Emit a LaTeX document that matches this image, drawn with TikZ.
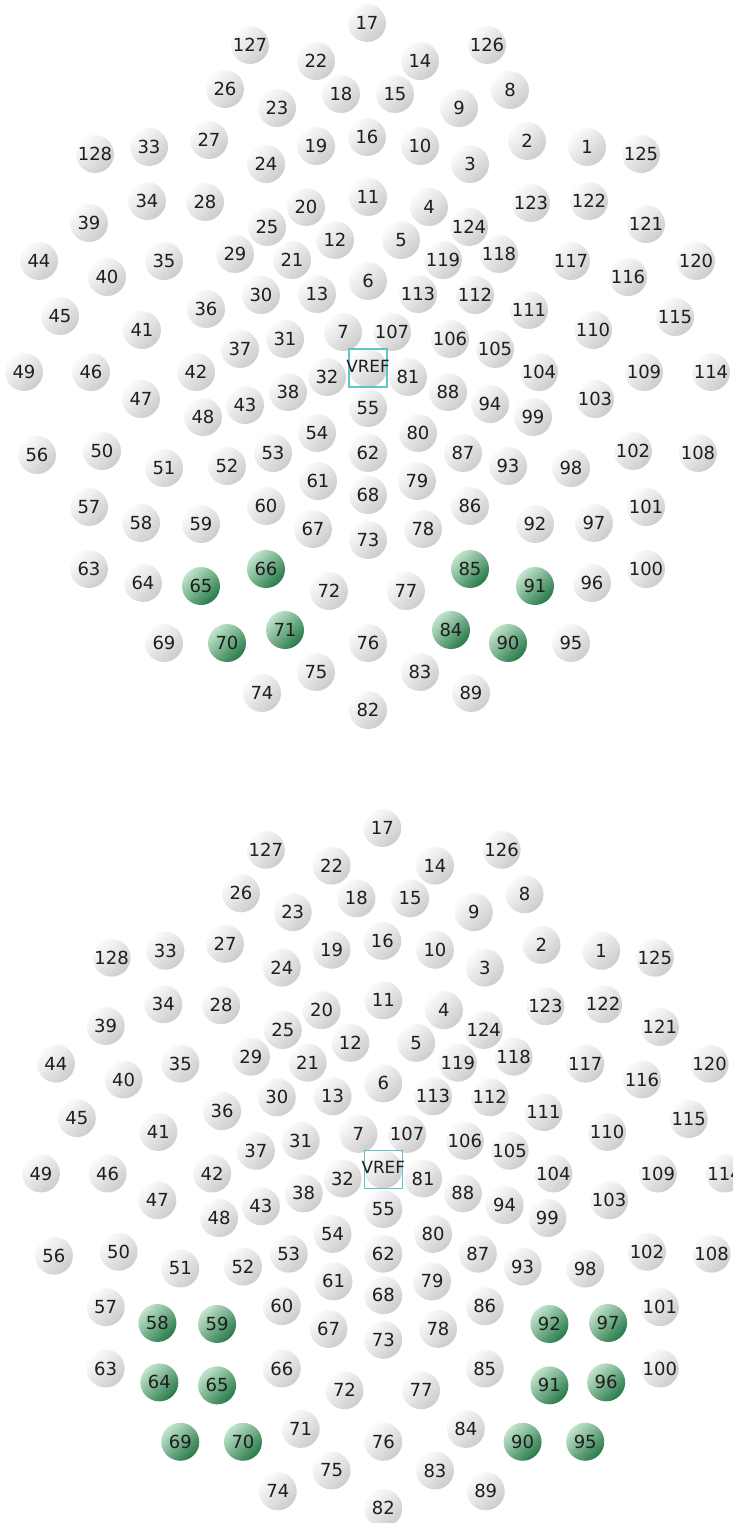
\documentclass[tikz,border=0pt]{standalone}
\usepackage{fontspec}
\setmainfont{DejaVu Sans}
\usepackage{xcolor}
\usetikzlibrary{shadings}
\definecolor{elhi}{RGB}{252,252,252}
\definecolor{ello}{RGB}{204,204,204}
\definecolor{selhi}{RGB}{195,228,205}
\definecolor{sello}{RGB}{38,122,72}
\definecolor{eltext}{RGB}{30,30,30}
\definecolor{refline}{RGB}{95,195,200}

% electrode positions (pixel grid of the upper net)
\newcommand{\netlayout}{%
  1/587/147, 2/527/141, 3/470/164, 4/429/207, 5/401/240, 6/368/281,
  7/343/332, 8/510/90, 9/459/108, 10/420/146, 11/368/197, 12/335/240,
  13/317/294, 14/420/61, 15/395/94, 16/367/137, 17/367/23, 18/341/94,
  19/316/146, 20/306/207, 21/292/260, 22/316/61, 23/277/108, 24/266/164,
  25/267/227, 26/225/89, 27/209/140, 28/205/202, 29/235/254, 30/261/295,
  31/285/339, 32/327/377, 33/149/147, 34/147/201, 35/164/261, 36/206/309,
  37/240/349, 38/288/392, 39/89/223, 40/107/277, 41/142/330, 42/196/372,
  43/245/405, 44/39/261, 45/60/316, 46/91/372, 47/141/399, 48/203/417,
  49/24/372, 50/102/451, 51/164/468, 52/227/466, 53/273/453, 54/317/433,
  55/368/408, 56/37/455, 57/89/507, 58/141/523, 59/201/524, 60/266/506,
  61/318/481, 62/368/453, 63/89/569, 64/143/583, 65/201/586, 66/266/569,
  67/313/529, 68/368/495, 69/164/643, 70/227/643, 71/285/630, 72/329/591,
  73/368/540, 74/262/693, 75/316/672, 76/368/643, 77/406/591, 78/423/529,
  79/417/481, 80/418/433, 81/408/377, 82/368/710, 83/420/672, 84/451/630,
  85/470/569, 86/470/506, 87/463/453, 88/448/392, 89/471/693, 90/508/643,
  91/535/586, 92/535/524, 93/508/466, 94/490/404, 95/571/643, 96/592/583,
  97/594/523, 98/571/468, 99/533/417, 100/646/569, 101/646/507,
  102/633/451, 103/595/399, 104/539/372, 105/495/349, 106/450/339,
  107/392/332, 108/698/453, 109/644/372, 110/593/330, 111/529/310,
  112/475/295, 113/418/294, 114/711/372, 115/675/317, 116/628/277,
  117/571/261, 118/499/254, 119/443/260, 120/696/261, 121/646/224,
  122/589/201, 123/531/203, 124/469/227, 125/641/154, 126/487/45,
  127/250/45, 128/95/154}

\begin{document}
\begin{tikzpicture}[
  x=0.5pt, y=-0.5pt,
  every node/.style={font=\fontsize{9}{10}\selectfont, text=eltext},
  elec/.style={circle, minimum size=19pt, inner sep=0pt,
               top color=elhi, bottom color=ello, shading angle=45},
  chosen/.style={top color=selhi, bottom color=sello, shading angle=45},
  pick/.style={sel#1/.style=chosen},
  refbox/.style={rectangle, draw=refline, line width=0.6pt,
                 minimum size=19pt, inner sep=0pt},
  reftext/.style={font=\fontsize{8.4}{9}\selectfont, inner sep=0pt},
]
\useasboundingbox (0,0) rectangle (733,1523);

% upper net
\begin{scope}[pick/.list={65,66,70,71,84,85,90,91}]
  \foreach \n/\x/\y in \netlayout
    \node[elec, sel\n/.try] (a\n) at (\x,\y) {\n};
  \node[elec] (aref) at (368,368) {};
  \node[refbox] (arefbox) at (aref) {};
  \node[reftext] (areftext) at (368,366) {VREF};
\end{scope}

% lower net
\begin{scope}[shift={(17.1,805.2)}, xscale=0.995, yscale=0.99,
              pick/.list={58,59,64,65,69,70,90,91,92,95,96,97}]
  \foreach \n/\x/\y in \netlayout
    \node[elec, sel\n/.try] (b\n) at (\x,\y) {\n};
  \node[elec] (bref) at (368,368) {};
  \node[refbox] (brefbox) at (bref) {};
  \node[reftext] (breftext) at (368,366) {VREF};
\end{scope}

\end{tikzpicture}
\end{document}
